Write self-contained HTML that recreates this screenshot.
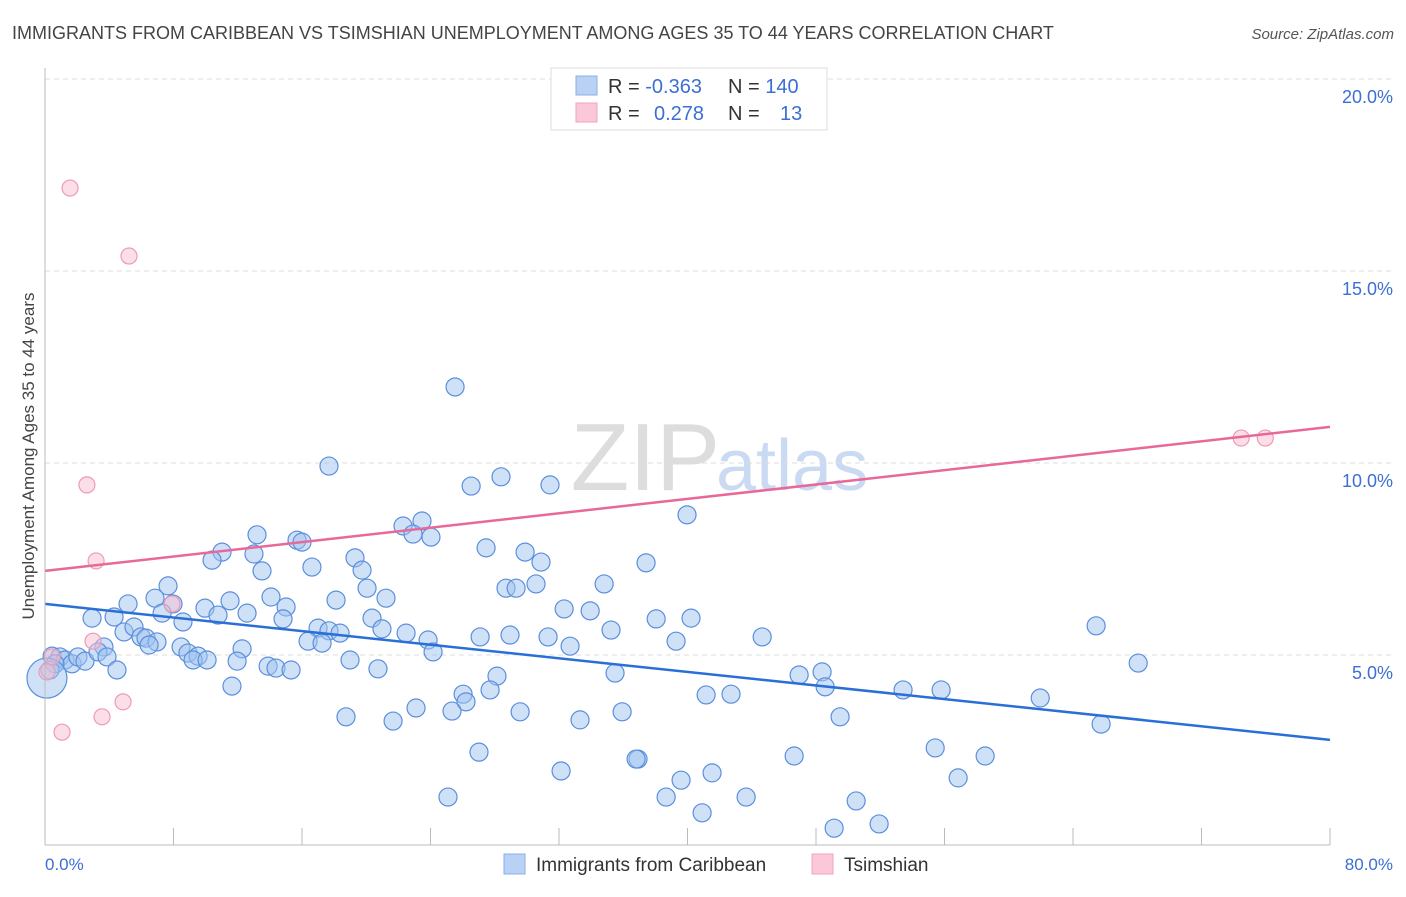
<!DOCTYPE html>
<html><head><meta charset="utf-8"><style>
body{margin:0;background:#fff;font-family:"Liberation Sans",sans-serif}
svg text{font-family:"Liberation Sans",sans-serif}
</style></head><body>
<svg id="c" width="1406" height="892" viewBox="0 0 1406 892">
<text x="12" y="39" font-size="18" fill="#444">IMMIGRANTS FROM CARIBBEAN VS TSIMSHIAN UNEMPLOYMENT AMONG AGES 35 TO 44 YEARS CORRELATION CHART</text>
<text x="1394" y="39" font-size="15" fill="#555" font-style="italic" text-anchor="end">Source: ZipAtlas.com</text>
<text x="720" y="490" font-size="96" fill="#ddd" text-anchor="end" font-family="Liberation Serif">ZIP</text>
<text x="716" y="490" font-size="72" fill="#c9daf2">atlas</text>
<text transform="translate(34,456) rotate(-90)" font-size="17" fill="#444" text-anchor="middle">Unemployment Among Ages 35 to 44 years</text>
<g id="grid"></g><g id="ticks"></g><g id="pts"></g><g id="trend"></g>
<line x1="45" y1="68" x2="45" y2="845" stroke="#bbb"/>
<line x1="45" y1="845" x2="1330" y2="845" stroke="#bbb"/>
<text x="45" y="870" font-size="17" fill="#3b6fd4">0.0%</text>
<text x="1393" y="870" font-size="17" fill="#3b6fd4" text-anchor="end">80.0%</text>
<g>
<rect x="551" y="68" width="276" height="62" fill="#fff" stroke="#ddd"/>
<rect x="576" y="76" width="21" height="19" fill="#b8d1f5" stroke="#8ab0e8"/>
<rect x="576" y="103" width="21" height="19" fill="#fac8d8" stroke="#f2a3bd"/>
<text x="608" y="93" font-size="20" fill="#333">R = <tspan fill="#3b6fd4">-0.363</tspan><tspan x="728">N = </tspan><tspan fill="#3b6fd4">140</tspan></text>
<text x="608" y="120" font-size="20" fill="#333">R = <tspan x="654" fill="#3b6fd4">0.278</tspan><tspan x="728">N = </tspan><tspan x="780" fill="#3b6fd4">13</tspan></text>
</g>
<g>
<rect x="504" y="854" width="21" height="20" fill="#b8d1f5" stroke="#8ab0e8"/>
<text x="536" y="871" font-size="19" fill="#333">Immigrants from Caribbean</text>
<rect x="812" y="854" width="21" height="20" fill="#fac8d8" stroke="#f2a3bd"/>
<text x="844" y="871" font-size="19" fill="#333">Tsimshian</text>
</g>
</svg>
<script>
const yTicks=[5,10,15,20];
const yTickLabels=["5.0%","10.0%","15.0%","20.0%"];
const xTickVals=[0,8,16,24,32,40,48,56,64,72,80];
const blueX=[25.53,17.68,26.53,28.39,31.44,39.97,23.47,22.29,22.91,24.03,13.2,15.69,16.0,11.02,13.01,27.46,29.89,30.88,19.3,19.74,13.51,16.62,10.4,37.42,7.66,20.05,28.7,29.33,30.57,34.81,21.23,18.12,5.17,6.85,14.07,11.52,7.97,9.96,15.01,32.32,33.94,2.93,4.3,7.29,8.59,10.77,12.58,14.82,20.36,38.05,40.22,65.44,4.92,5.54,5.98,6.29,6.97,6.48,8.47,17.0,17.68,18.37,20.98,22.48,23.85,27.09,28.95,31.32,32.69,35.24,39.29,44.65,16.38,17.25,24.16,3.67,8.9,9.53,12.27,0.44,0.93,1.25,1.68,2.05,2.49,3.3,3.86,4.48,9.22,10.09,11.96,13.89,14.38,15.32,18.99,20.73,35.49,46.95,48.38,48.57,53.42,55.79,68.06,28.14,26.03,27.71,26.21,41.16,42.71,61.96,11.64,18.74,21.67,23.1,25.34,29.58,33.31,35.93,49.5,65.75,27.02,32.13,36.92,36.8,41.53,39.6,46.64,55.42,58.53,56.85,25.09,38.67,43.65,50.5,40.91,49.13,51.93,0.62,0.31,0.12];
const blueY=[11.98,9.92,9.4,9.64,9.43,8.65,8.49,8.36,8.15,8.07,8.13,7.99,7.94,7.68,7.63,7.79,7.68,7.42,7.53,7.21,7.19,7.29,7.47,7.4,6.8,6.74,6.74,6.74,6.85,6.85,6.48,6.43,6.33,6.48,6.51,6.41,6.33,6.22,6.25,6.2,6.15,5.96,5.99,6.09,5.86,6.04,6.09,5.94,5.96,5.94,5.96,5.76,5.6,5.73,5.47,5.44,5.34,5.26,5.21,5.7,5.63,5.57,5.68,5.57,5.39,5.47,5.52,5.47,5.23,5.65,5.36,5.47,5.36,5.31,5.08,5.21,5.05,4.97,5.16,4.97,4.95,4.87,4.77,4.95,4.84,5.08,4.95,4.61,4.87,4.87,4.84,4.71,4.66,4.61,4.87,4.64,4.53,4.48,4.56,4.17,4.09,4.09,4.79,4.45,3.98,4.09,3.78,3.96,3.98,3.88,4.19,3.39,3.28,3.62,3.54,3.52,3.31,3.52,3.39,3.2,2.47,1.98,2.29,2.29,1.93,1.74,2.37,2.58,2.37,1.8,1.3,1.3,1.3,1.2,0.89,0.49,0.6,4.77,4.61,4.4];
const blueR=[];for(let i=0;i<blueX.length;i++)blueR.push(i===blueX.length-1?20:9);
const pinkX=[1.56,5.23,2.61,3.18,7.91,2.99,3.55,4.86,1.06,0.44,0.12,74.47,75.97];
const pinkY=[17.16,15.39,9.43,7.45,6.33,5.36,3.39,3.78,2.99,4.95,4.56,10.65,10.65];
const blueTrend=[6.33,2.79];
const pinkTrend=[7.19,10.94];
const NS="http://www.w3.org/2000/svg";
const sx=v=>45+v/80*1285, sy=v=>847-v/5*192;
function mk(t,a,p){const e=document.createElementNS(NS,t);for(const k in a)e.setAttribute(k,a[k]);document.getElementById(p).appendChild(e);return e;}
yTicks.forEach((v,i)=>{
 const l=mk('line',{x1:45,x2:1393,y1:sy(v),y2:sy(v),stroke:'#ddd','stroke-dasharray':'5,4'},'grid');
 
 
 const t=mk('text',{x:1393,y:sy(v)+24,'font-size':18,fill:'#3b6fd4','text-anchor':'end'},'ticks');
 t.textContent=yTickLabels[i];
 
 
});
xTickVals.forEach(v=>{
 const l=mk('line',{x1:sx(v),x2:sx(v),y1:828,y2:845,stroke:'#bbb'},'ticks');
 
 
});
blueX.forEach((x,i)=>{
 const c=mk('circle',{cx:sx(x),cy:sy(blueY[i]),r:blueR[i],fill:'rgba(160,195,240,0.5)',stroke:'#5b8fdc','stroke-width':1.2},'pts');
 
 
});
pinkX.forEach((x,i)=>{
 const c=mk('circle',{cx:sx(x),cy:sy(pinkY[i]),r:8,fill:'rgba(250,190,210,0.5)',stroke:'#ee9ab5','stroke-width':1.2},'pts');
 
 
});
const bl=mk('line',{x1:sx(0),y1:sy(blueTrend[0]),x2:sx(80),y2:sy(blueTrend[1]),stroke:'#2a6fd6','stroke-width':2.5},'trend');


const pl=mk('line',{x1:sx(0),y1:sy(pinkTrend[0]),x2:sx(80),y2:sy(pinkTrend[1]),stroke:'#e8689a','stroke-width':2.5},'trend');


</script>
</body></html>
